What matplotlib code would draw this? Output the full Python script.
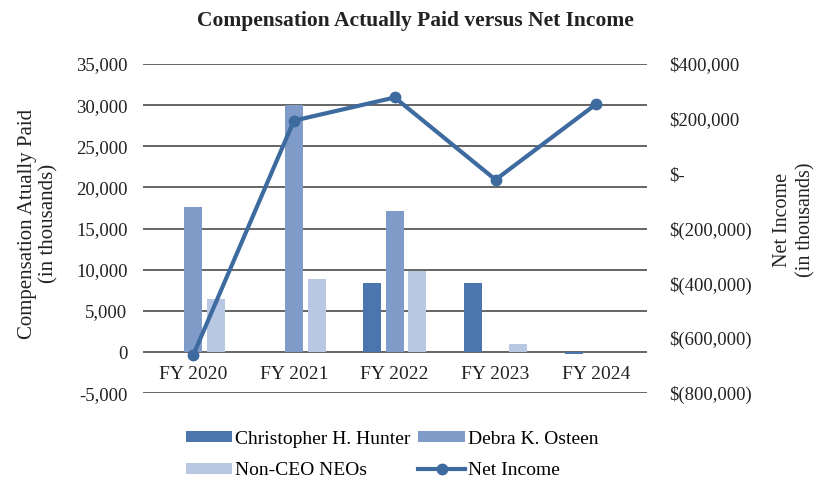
import numpy as np
import matplotlib
matplotlib.use("Agg")
import matplotlib.pyplot as plt
from matplotlib.ticker import FuncFormatter

plt.rcParams['font.family'] = ['Liberation Serif', 'DejaVu Serif']

years = ['FY 2020', 'FY 2021', 'FY 2022', 'FY 2023', 'FY 2024']
hunter = [0, 0, 8450, 8350, -250]
osteen = [17650, 30000, 17150, 0, 0]
non_ceo = [6500, 8850, 9800, 1000, 0]
net_income = [-661700, 193600, 278000, -21700, 254600]

c_hunter = '#4a75ad'
c_osteen = '#7f9cc9'
c_nonceo = '#b8c7e2'
c_line = '#3d6a9f'
txt = '#222222'

fig = plt.figure(figsize=(8.22, 4.82), dpi=100)
ax = fig.add_axes([0.1736, 0.184, 0.6132, 0.6832])

x = np.arange(len(years))
w = 0.18
off = 0.225
b1 = ax.bar(x - off, hunter, w, color=c_hunter, label='Christopher H. Hunter', zorder=2)
b2 = ax.bar(x, osteen, w, color=c_osteen, label='Debra K. Osteen', zorder=2)
b3 = ax.bar(x + off, non_ceo, w, color=c_nonceo, label='Non-CEO NEOs', zorder=2)

ax.set_xlim(-0.5, len(years) - 0.5)
ax.set_ylim(-5000, 35000)
ax.set_yticks(np.arange(-5000, 35001, 5000))
ax.yaxis.set_major_formatter(FuncFormatter(lambda v, p: f'{int(v):,}'))
ax.yaxis.grid(True, color='#3a3a3a', linewidth=1.1, zorder=0)
ax.set_axisbelow(True)
ax.tick_params(axis='y', length=0, pad=11, labelsize=13.5, labelcolor=txt)
ax.set_xticks([])
for s in ax.spines.values():
    s.set_visible(False)

# category labels sit between the 0 and -5,000 gridlines
for i, yr in enumerate(years):
    ax.text(i, -2750, yr, ha='center', va='center', fontsize=14, color=txt)

ax.set_ylabel('Compensation Atually Paid\n(in thousands)', fontsize=15, color=txt,
              linespacing=1.1)
ax.yaxis.set_label_coords(-0.168, 0.515)

ax2 = ax.twinx()
ln, = ax2.plot(x, net_income, color=c_line, linewidth=3, marker='o', markersize=7.5,
               label='Net Income', zorder=3)
ax2.set_ylim(-800000, 400000)
ax2.set_yticks(np.arange(-800000, 400001, 200000))


def money(v, p):
    v = int(round(v))
    if v == 0:
        return '$-'
    if v < 0:
        return f'$({-v:,})'
    return f'${v:,}'


ax2.yaxis.set_major_formatter(FuncFormatter(money))
ax2.tick_params(axis='y', length=0, pad=16, labelsize=13.5, labelcolor=txt)
for s in ax2.spines.values():
    s.set_visible(False)
ax2.set_ylabel('Net Income\n(in thousands)', fontsize=14.5, color=txt,
               rotation=90, linespacing=1.3)
ax2.yaxis.set_label_coords(1.25, 0.526)

fig.suptitle('Compensation Actually Paid versus Net Income', x=0.505, y=0.956, va='center',
             fontsize=15.5, fontweight='bold', color=txt)

fig.legend([b1, b3, b2, ln],
           ['Christopher H. Hunter', 'Non-CEO NEOs', 'Debra K. Osteen', 'Net Income'],
           ncol=2, loc='center', bbox_to_anchor=(0.477, 0.056), frameon=False,
           fontsize=14, handlelength=2.4, handleheight=0.5, handletextpad=0.15,
           columnspacing=0.4, labelspacing=0.75)

fig.savefig('out.png', dpi=100)
